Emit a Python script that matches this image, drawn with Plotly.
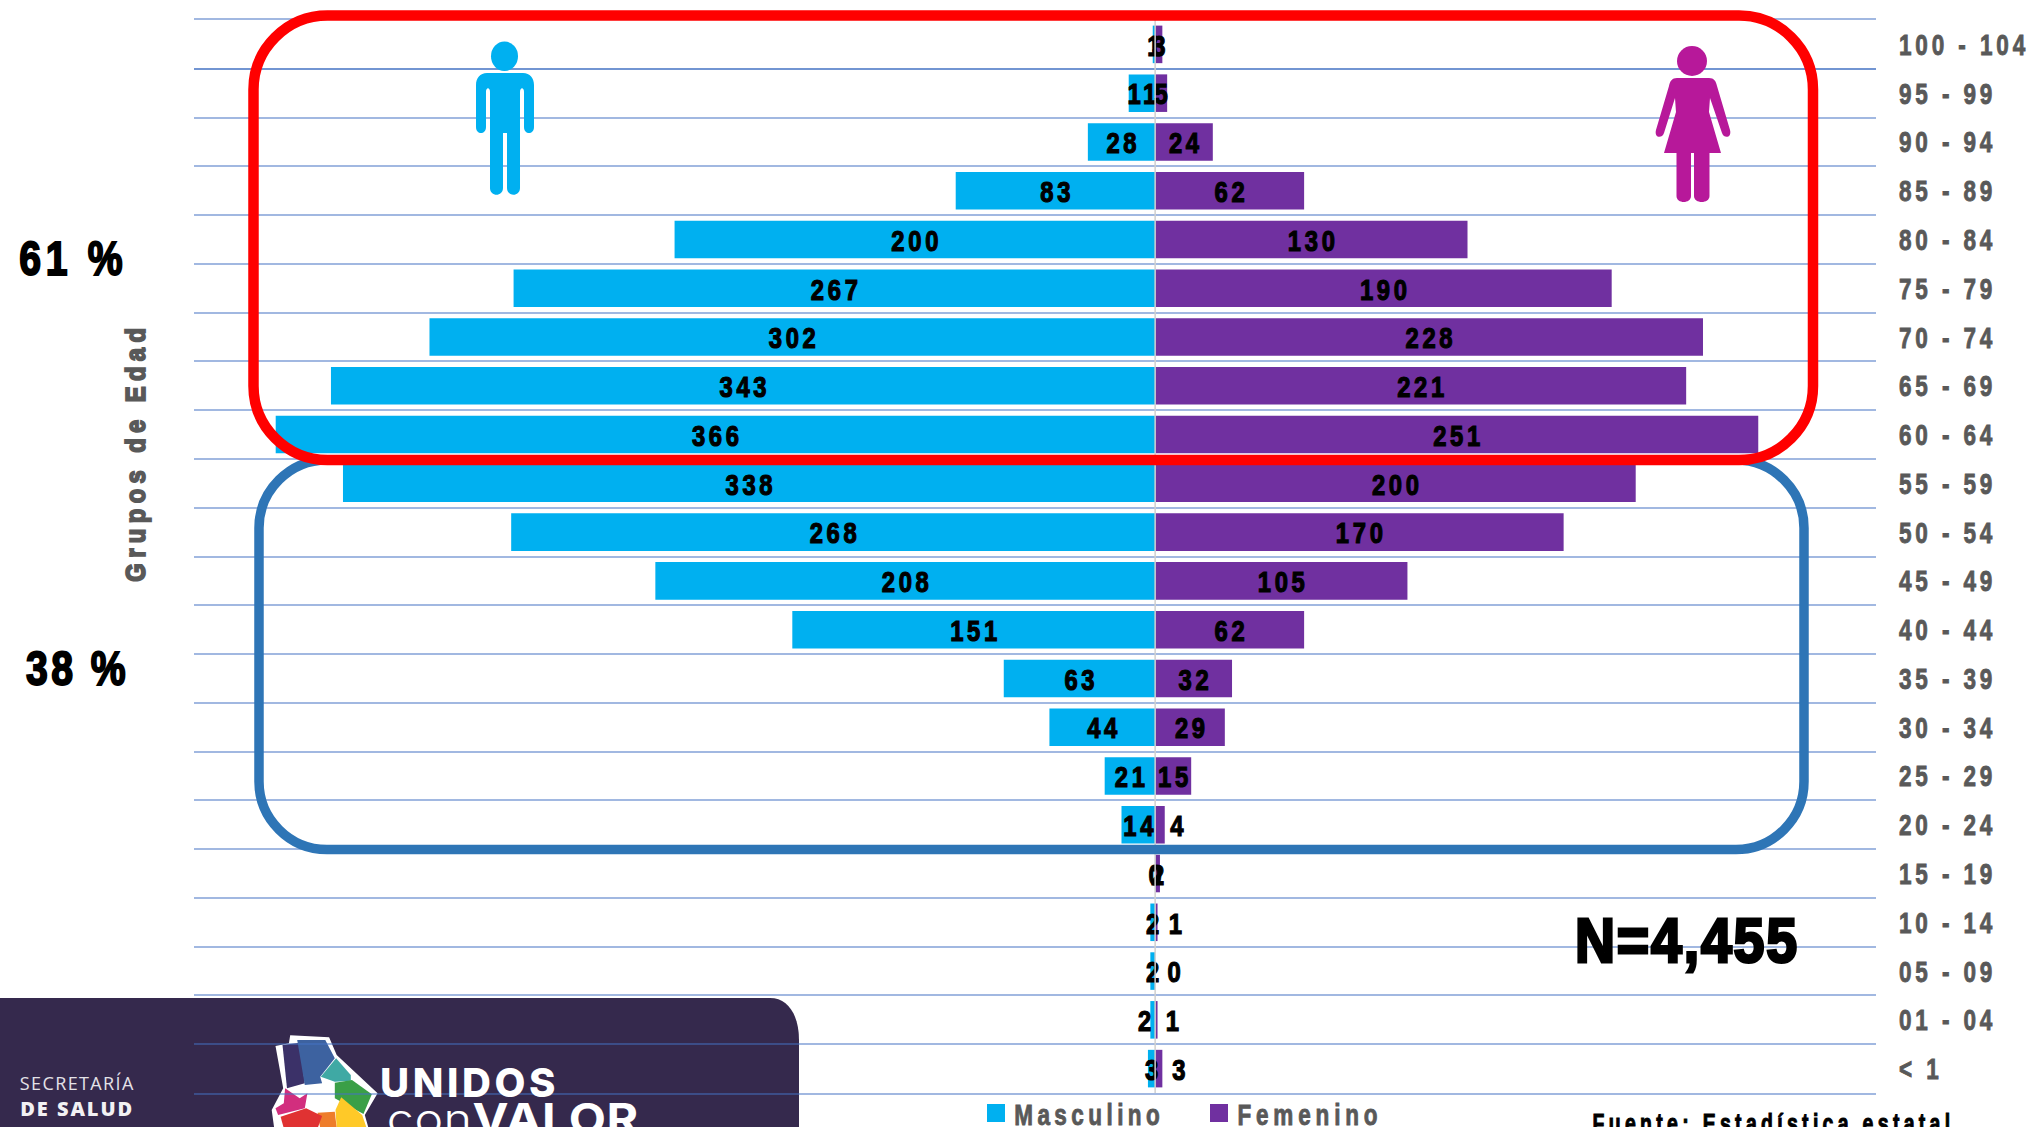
import plotly.graph_objects as go

# ---------- data ----------
age_groups = ["100 - 104", "95 - 99", "90 - 94", "85 - 89", "80 - 84", "75 - 79", "70 - 74",
              "65 - 69", "60 - 64", "55 - 59", "50 - 54", "45 - 49", "40 - 44", "35 - 39",
              "30 - 34", "25 - 29", "20 - 24", "15 - 19", "10 - 14", "05 - 09", "01 - 04", "< 1"]
masculino = [1, 11, 28, 83, 200, 267, 302, 343, 366, 338, 268, 208, 151, 63, 44, 21, 14, 0, 2, 2, 2, 3]
femenino = [3, 5, 24, 62, 130, 190, 228, 221, 251, 200, 170, 105, 62, 32, 29, 15, 4, 2, 1, 0, 1, 3]

# ---------- layout constants (page pixels) ----------
W, H = 2031, 1127
L, R, T, B = 194, 155, 20, 34
PW, PH = W - L - R, H - T - B
UNITS_PER_PX = 700 / PW
# hand-placed label shifts in the original, in page pixels
nudge_m = {"01 - 04": -8}
nudge_f = {"20 - 24": 17, "10 - 14": 19, "05 - 09": 19, "01 - 04": 16, "< 1": 20}

SANS = "Liberation Sans, Arial, sans-serif"
CYAN, PURPLE = "#00B0F0", "#7030A0"
GRAY = "#595959"
GRID = "rgba(68,114,196,0.5)"


def px(x):
    return (x - L) / PW


def py(y):
    return 1 - (y - T) / PH


def path(s):
    """Convert a path written in page pixels to paper coordinates."""
    out, is_x = [], True
    for tok in s.split():
        if tok.isalpha():
            out.append(tok)
            is_x = True
        else:
            v = float(tok)
            out.append(f"{px(v):.5f}" if is_x else f"{py(v):.5f}")
            is_x = not is_x
    return " ".join(out)


def rounded(x0, y0, x1, y1, r):
    k = r * 0.45
    return (f"M {x0+r} {y0} L {x1-r} {y0} C {x1-k} {y0} {x1} {y0+k} {x1} {y0+r} "
            f"L {x1} {y1-r} C {x1} {y1-k} {x1-k} {y1} {x1-r} {y1} "
            f"L {x0+r} {y1} C {x0+k} {y1} {x0} {y1-k} {x0} {y1-r} "
            f"L {x0} {y0+r} C {x0} {y0+k} {x0+k} {y0} {x0+r} {y0} Z")


fig = go.Figure()
fig.add_bar(y=age_groups, x=[-v for v in masculino], name="Masculino", orientation="h",
            marker=dict(color=CYAN, line_width=0), customdata=masculino,
            hovertemplate="%{y}: %{customdata}<extra>Masculino</extra>")
fig.add_bar(y=age_groups, x=femenino, name="Femenino", orientation="h",
            marker=dict(color=PURPLE, line_width=0),
            hovertemplate="%{y}: %{x}<extra>Femenino</extra>")

label_font = dict(family=SANS, size=29, color="black", weight=700)
fig.add_scatter(y=age_groups,
                x=[-v / 2 + nudge_m.get(a, 0) * UNITS_PER_PX for a, v in zip(age_groups, masculino)],
                text=[str(v) for v in masculino], mode="text", textposition="middle center",
                textfont=label_font, showlegend=False, hoverinfo="skip")
fig.add_scatter(y=age_groups,
                x=[v / 2 + nudge_f.get(a, 0) * UNITS_PER_PX for a, v in zip(age_groups, femenino)],
                text=[str(v) for v in femenino], mode="text", textposition="middle center",
                textfont=label_font, showlegend=False, hoverinfo="skip")

shapes = []
# logo panel, below the gridlines
shapes.append(dict(type="path", layer="below", xref="paper", yref="paper", line_width=0, fillcolor="#35294D",
                   path=path("M 0 998 L 770 998 C 788 998 799 1015 799 1040 L 799 1135 L 0 1135 Z")))
# logo map


def m(pts):
    # points read in the 1568-wide crop of the logo
    return "M " + " L ".join(f"{x/1.568:.1f} {960+y/3:.1f}" for x, y in pts) + " Z"


logo = [
    ("#FFFFFF", [(455, 226), (516, 232), (528, 285), (592, 400), (572, 465), (578, 505), (430, 505), (426, 450),
                 (444, 385), (432, 258), (453, 250)]),
    ("#3B3168", [(443, 255), (470, 248), (478, 370), (450, 385)]),
    ("#3D62A0", [(466, 240), (510, 240), (525, 295), (502, 350), (505, 370), (478, 375)]),
    ("#3FA9A4", [(527, 295), (550, 345), (550, 362), (525, 365), (503, 350)]),
    ("#3A9F47", [(525, 368), (552, 360), (583, 403), (570, 462), (525, 415)]),
    ("#FFC928", [(535, 412), (568, 465), (575, 505), (528, 505), (526, 450)]),
    ("#EE7D2B", [(498, 458), (525, 455), (528, 505), (502, 505)]),
    ("#E03232", [(440, 470), (480, 445), (505, 468), (498, 505), (445, 505)]),
    ("#D22E7E", [(447, 385), (470, 415), (482, 400), (478, 445), (436, 465), (432, 445), (445, 430)]),
]
for color, pts in logo:
    shapes.append(dict(type="path", layer="below", xref="paper", yref="paper", line_width=0, fillcolor=color,
                       path=path(m(pts))))
# centre axis line
shapes.append(dict(type="line", xref="x", yref="paper", x0=0, x1=0, y0=0, y1=1,
                   line=dict(color="#D0D0D0", width=1.5)))
# group frames
shapes.append(dict(type="path", xref="paper", yref="paper", fillcolor="rgba(0,0,0,0)",
                   line=dict(color="#2E75B6", width=9.5), path=path(rounded(259, 460, 1804, 849.5, 68))))
shapes.append(dict(type="path", xref="paper", yref="paper", fillcolor="rgba(0,0,0,0)",
                   line=dict(color="#FF0000", width=10.5), path=path(rounded(253.5, 15.5, 1813, 460, 74))))
# man
shapes.append(dict(type="circle", xref="paper", yref="paper", line_width=0, fillcolor=CYAN,
                   x0=px(491), x1=px(518), y0=py(71), y1=py(41.5)))
shapes.append(dict(type="path", xref="paper", yref="paper", line_width=0, fillcolor=CYAN, path=path(
    "M 487 73 L 523 73 C 530 73 534 78 534 85 L 534 127 C 534 135 524 135 524 127 L 524 92 C 524 87 520 87 520 92 "
    "L 520 188 C 520 197 507 197 507 188 L 507 133 L 503 133 L 503 188 C 503 197 490 197 490 188 "
    "L 490 92 C 490 87 486 87 486 92 L 486 127 C 486 135 476 135 476 127 L 476 85 C 476 78 480 73 487 73 Z")))
# woman
WOMAN = "#B7189A"
shapes.append(dict(type="circle", xref="paper", yref="paper", line_width=0, fillcolor=WOMAN,
                   x0=px(1677), x1=px(1707), y0=py(76), y1=py(46)))
shapes.append(dict(type="path", xref="paper", yref="paper", line_width=0, fillcolor=WOMAN, path=path(
    "M 1677 78 L 1709 78 C 1714 78 1716 81 1717 86 L 1730 130 C 1732 138 1724 139 1722 133 L 1710 98 "
    "L 1709 112 L 1721 153 L 1709.5 153 L 1709.5 196 C 1709.5 204 1694 204 1694 196 L 1694 153 L 1691 153 "
    "L 1691 196 C 1691 204 1676.5 204 1676.5 196 L 1676.5 153 L 1664 153 L 1676 112 L 1675 98 "
    "L 1664 133 C 1662 139 1654 138 1656 130 L 1669 86 C 1670 81 1672 78 1677 78 Z")))


def note(text, x, y, size, color="black", family=SANS, **kw):
    return dict(text=text, xref="paper", yref="paper", x=px(x), y=py(y), showarrow=False,
                font=dict(family=family, size=size, color=color, weight=kw.pop("weight", 700)),
                xanchor="center", yanchor="middle", **kw)


annotations = [
    note("61 %", 71, 258, 49),
    note("38 %", 76, 668, 49),
    note("N=4,455", 1686, 940, 63),
    note("Fuente: Estadística estatal", 1771, 1124, 27),
    note("Grupos de Edad", 135, 455, 28, color=GRAY, textangle=-90),
    note("SECRETARÍA", 76.5, 1083, 18, color="#E4E2E8", family="Open Sans", weight=400),
    note("DE SALUD", 76, 1108, 20, color="#F2F1F4", family="Open Sans", weight=800),
    note("UNIDOS", 467, 1082, 40, color="white", family="Inter", weight=800),
    note("con<b>VALOR</b>", 512, 1118, 42, color="white", family="Inter", weight=300),
]

fig.update_layout(
    width=W, height=H, autosize=False,
    margin=dict(l=L, r=R, t=T, b=B, pad=0, autoexpand=False),
    paper_bgcolor="white", plot_bgcolor="rgba(0,0,0,0)",
    barmode="relative", bargap=0.23, hovermode="closest",
    xaxis=dict(range=[-400, 300], showgrid=False, zeroline=False, showticklabels=False, ticks="", fixedrange=True,
               showline=True, mirror=True, linecolor=GRID, linewidth=2.4),
    yaxis=dict(type="category", categoryorder="array", categoryarray=age_groups, range=[21.5, -0.5],
               side="right", tickson="boundaries", showgrid=True, gridcolor=GRID, gridwidth=2.4,
               zeroline=False, ticks="", ticklabelstandoff=20, ticklabelposition="outside",
               tickfont=dict(family=SANS, size=30, color=GRAY, weight=700), fixedrange=True),
    legend=dict(orientation="h", xref="paper", yref="paper", x=px(976), y=py(1113), xanchor="left", yanchor="middle",
                itemwidth=30, entrywidth=178, entrywidthmode="pixels", bgcolor="rgba(0,0,0,0)",
                font=dict(family=SANS, size=30, color=GRAY, weight=700)),
    shapes=shapes, annotations=annotations,
)

# The original uses a condensed, wide-tracked face; no such font is installed, so the
# installed bold sans is narrowed and tracked once it has been drawn.
fit_js = """
document.body.style.margin = '0';
document.documentElement.style.overflow = 'hidden';
function fit(t, o) {
  if (t.dataset.fit) { return; }
  t.dataset.fit = '1';
  var natural = t.getComputedTextLength();
  var n = t.textContent.length;
  var scale = o.scale || 1;
  var ls = o.width ? (o.width / scale - natural) / n : o.ls;
  t.style.letterSpacing = ls + 'px';
  t.setAttribute('textLength', (natural + ls * n) * scale);
  t.setAttribute('lengthAdjust', 'spacingAndGlyphs');
  t.setAttribute('dx', ls * scale / 2 + (o.shift || 0));
  if (o.dy) { t.setAttribute('dy', o.dy); }
  if (o.stroke) {
    t.style.stroke = o.color;
    t.style.strokeWidth = o.stroke + 'px';
  }
}
function applyFit() {
  document.querySelectorAll('.ytick text').forEach(function (t) {
    fit(t, {scale: 0.75, ls: 5.2, stroke: 0.9, color: '#595959'});
  });
  document.querySelectorAll('.textpoint text').forEach(function (t) {
    fit(t, {scale: 0.82, ls: 4.5, dy: 4, stroke: 1.2, color: '#000'});
  });
  var legendWidth = {'Masculino': 150, 'Femenino': 145};
  document.querySelectorAll('.legendtext').forEach(function (t) {
    fit(t, {scale: 0.75, width: legendWidth[t.textContent], stroke: 0.9, color: '#595959', shift: -4});
  });
  document.querySelectorAll('.legendpoints path').forEach(function (p) {
    p.setAttribute('d', 'M9,9H-9V-9H9Z');
  });
  var notes = {
    'Grupos de Edad': {scale: 0.85, width: 259, stroke: 1.8, color: '#595959'},
    'Fuente: Estadística estatal': {scale: 0.72, width: 362, stroke: 1, color: '#000'},
    '61 %': {scale: 0.8, width: 108, stroke: 2, color: '#000'},
    '38 %': {scale: 0.8, width: 103, stroke: 2, color: '#000'},
    'N=4,455': {scale: 0.88, width: 224, stroke: 3, color: '#000'},
    'SECRETARÍA': {width: 115},
    'DE SALUD': {width: 114},
    'UNIDOS': {width: 179},
    'conVALOR': {scale: 1.15, width: 252}
  };
  document.querySelectorAll('.annotation-text').forEach(function (t) {
    if (notes[t.textContent]) { fit(t, notes[t.textContent]); }
  });
}
applyFit(); setTimeout(applyFit, 100); setTimeout(applyFit, 500);
"""
fig.write_html("out.html", post_script=fit_js, config=dict(displayModeBar=False))
